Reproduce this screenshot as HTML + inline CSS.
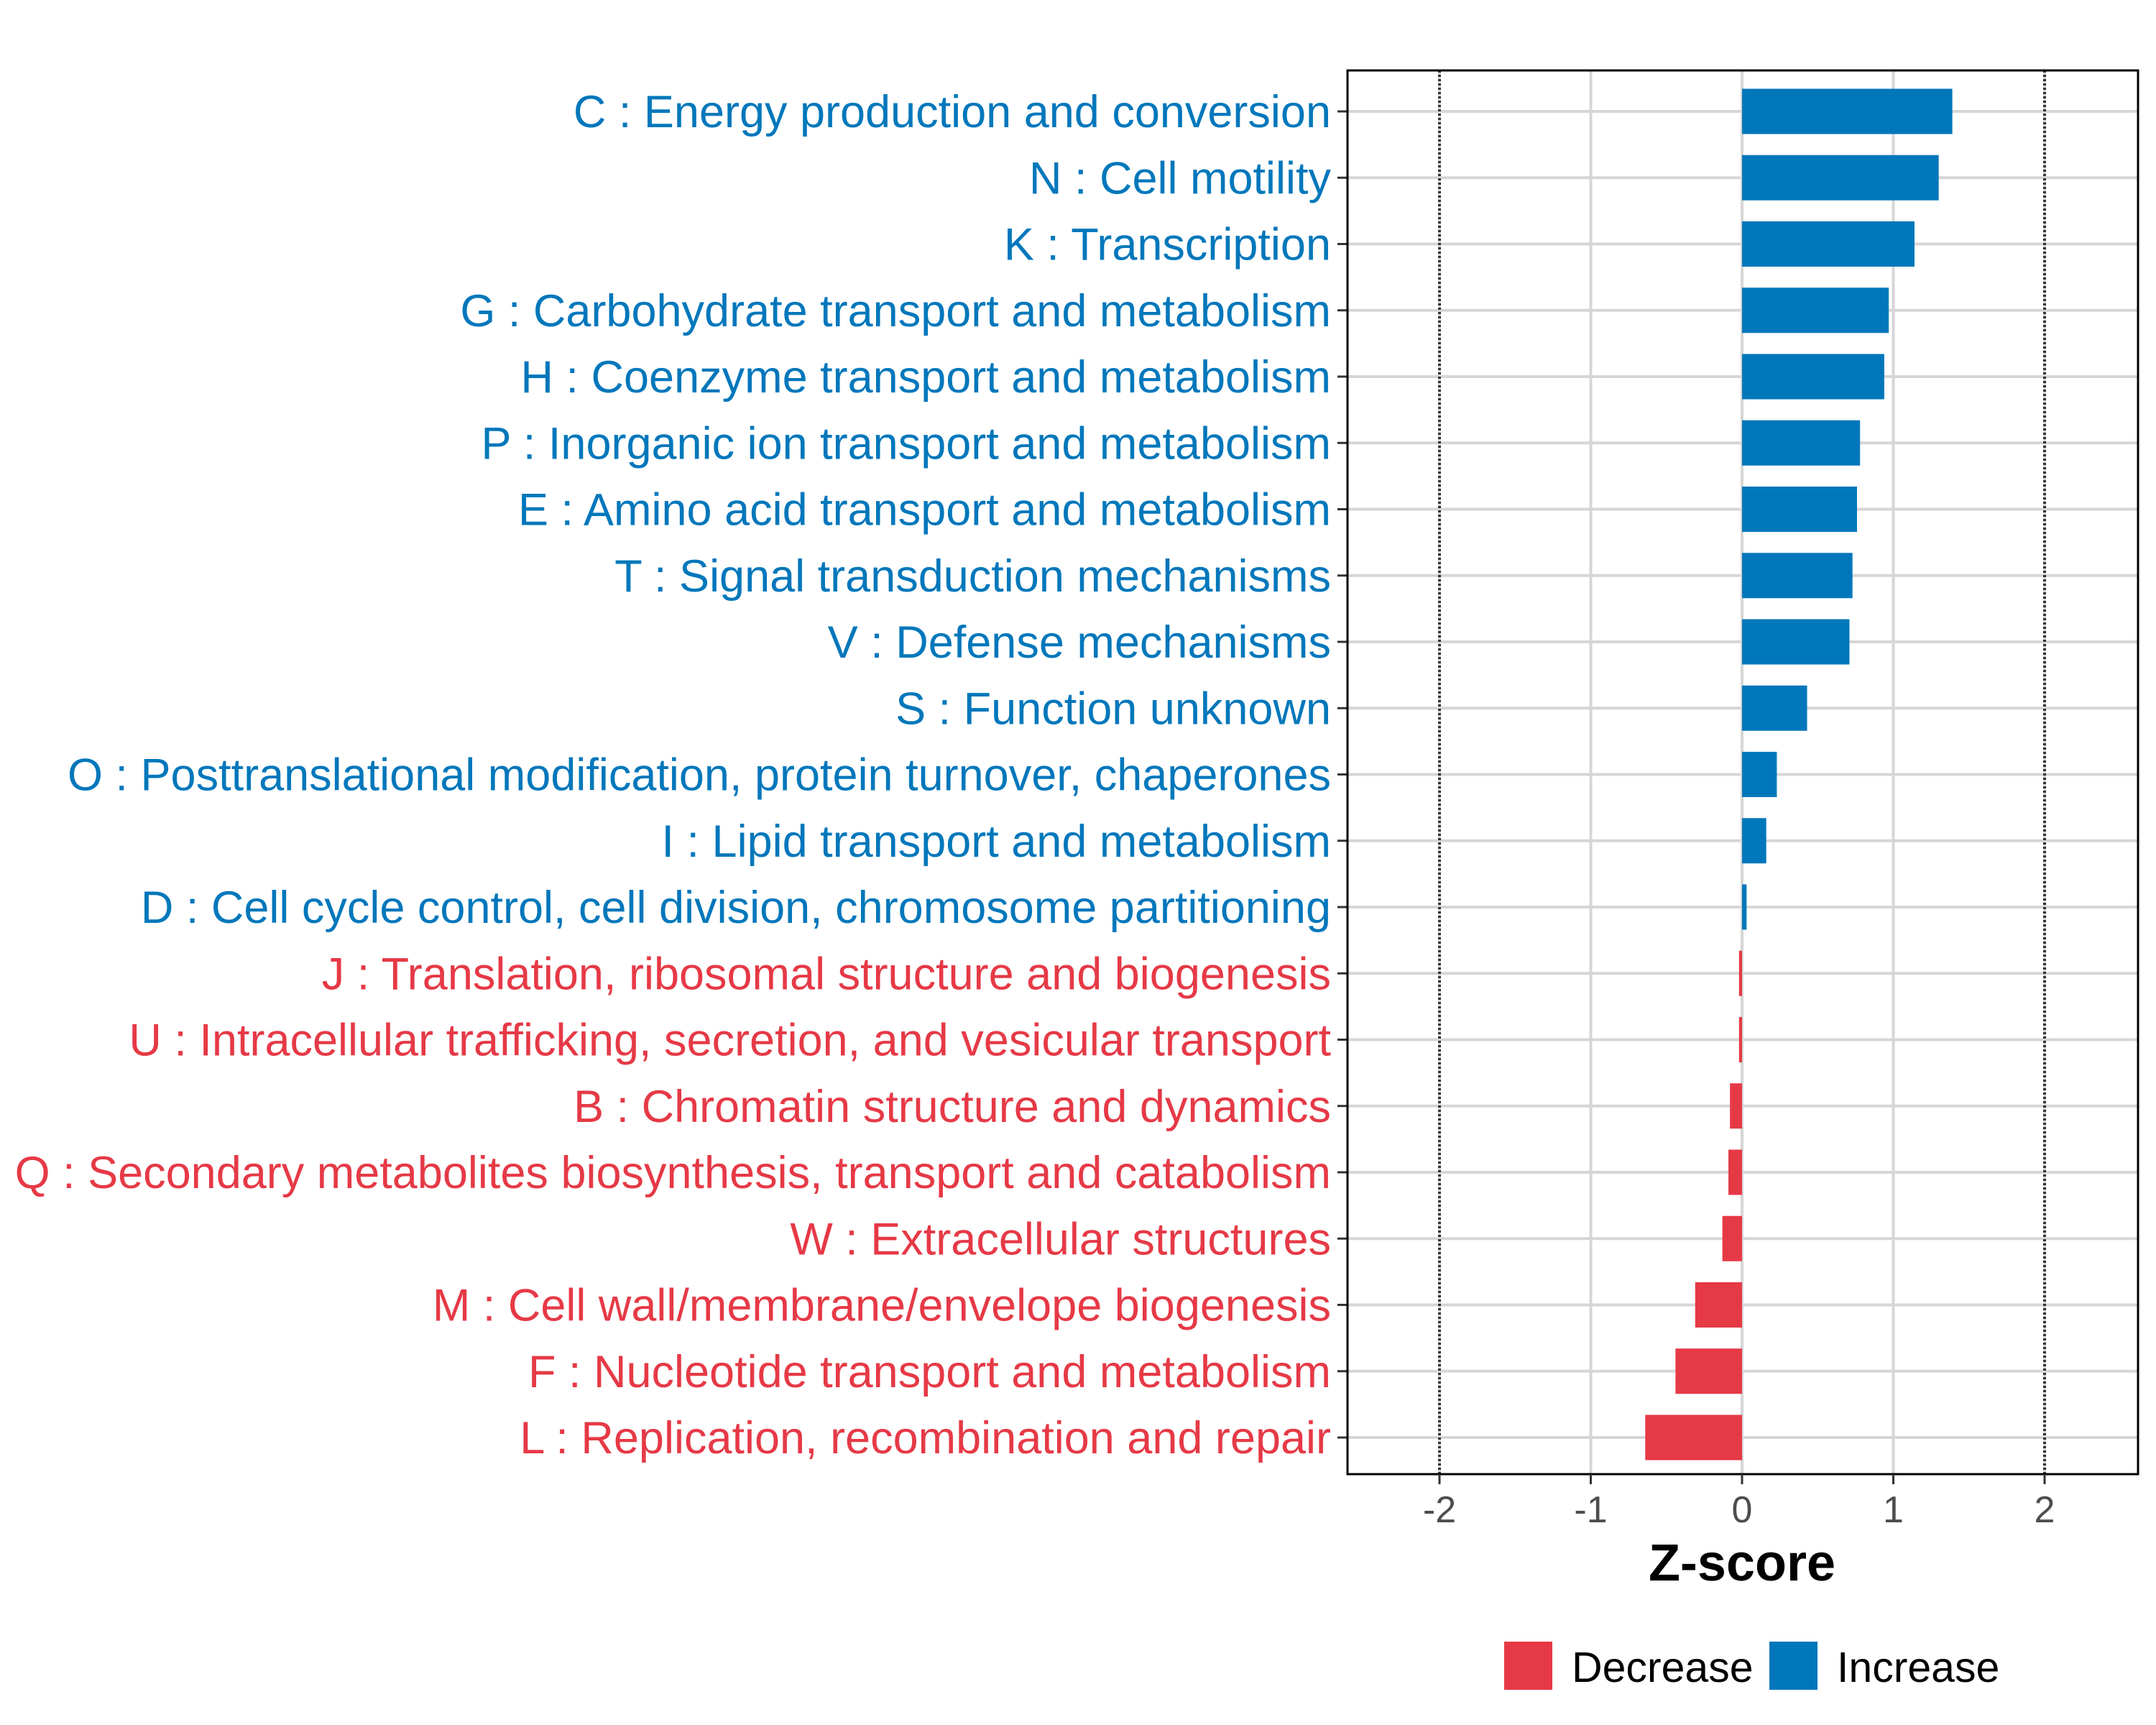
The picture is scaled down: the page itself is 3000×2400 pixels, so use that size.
<!DOCTYPE html>
<html><head><meta charset="utf-8"><style>
html,body{margin:0;padding:0;background:#fff;}
svg{display:block;font-family:"Liberation Sans",Arial,sans-serif;}
</style></head><body>
<svg id="chart" width="3000" height="2400" viewBox="0 0 3000 2400" xmlns="http://www.w3.org/2000/svg">
<rect x="0" y="0" width="3000" height="2400" fill="#fff"/>
<g id="grid"></g>
<g id="bars"></g>
<g id="ylabels"></g>
<g id="xaxis"></g>
<text x="2424" y="2199" text-anchor="middle" font-size="72" font-weight="bold" fill="#000">Z-score</text>
<g>
<rect x="2093" y="2284" width="67" height="67" fill="#E63946"/>
<text x="2187" y="2340" font-size="59" fill="#000">Decrease</text>
<rect x="2462" y="2284" width="67" height="67" fill="#0077BB"/>
<text x="2556" y="2340" font-size="59" fill="#000">Increase</text>
</g>
</svg>
<script>
const categories = ["C : Energy production and conversion","N : Cell motility","K : Transcription","G : Carbohydrate transport and metabolism","H : Coenzyme transport and metabolism","P : Inorganic ion transport and metabolism","E : Amino acid transport and metabolism","T : Signal transduction mechanisms","V : Defense mechanisms","S : Function unknown","O : Posttranslational modification, protein turnover, chaperones","I : Lipid transport and metabolism","D : Cell cycle control, cell division, chromosome partitioning","J : Translation, ribosomal structure and biogenesis","U : Intracellular trafficking, secretion, and vesicular transport","B : Chromatin structure and dynamics","Q : Secondary metabolites biosynthesis, transport and catabolism","W : Extracellular structures","M : Cell wall/membrane/envelope biogenesis","F : Nucleotide transport and metabolism","L : Replication, recombination and repair"];
const zscores = [1.39,1.30,1.14,0.97,0.94,0.78,0.76,0.73,0.71,0.43,0.23,0.16,0.03,-0.02,-0.02,-0.08,-0.09,-0.13,-0.31,-0.44,-0.64];
const xTicks = [-2,-1,0,1,2];
const xTickLabels = ["-2","-1","0","1","2"];

const NS="http://www.w3.org/2000/svg";
const L=1875,R=2975,T=98,B=2051;
const x0=2424, unit=210.5;
function xs(v){return x0+v*unit;}
const step=(2000-155)/(categories.length-1);
function ys(i){return 155+i*step;}
function mk(tag,attrs,parent){const e=document.createElementNS(NS,tag);for(const k in attrs)e.setAttribute(k,attrs[k]);parent.appendChild(e);return e;}
const grid=document.getElementById('grid'),bars=document.getElementById('bars'),yl=document.getElementById('ylabels'),xa=document.getElementById('xaxis');
xTicks.forEach(v=>{const g=mk('line',{x1:xs(v),x2:xs(v),y1:T,y2:B,stroke:'#d6d6d6','stroke-width':4},grid);

});
categories.forEach((c,i)=>{const g=mk('line',{x1:L,x2:R,y1:ys(i),y2:ys(i),stroke:'#d6d6d6','stroke-width':4},grid);

});
[-2,2].forEach(v=>{const d=mk('line',{x1:xs(v),x2:xs(v),y1:T,y2:B,stroke:'#333','stroke-width':4,'stroke-dasharray':'3,3'},grid);

});
const bh=63;
zscores.forEach((v,i)=>{const col=v>=0?'#0077BB':'#E63946';
const r=mk('rect',{x:Math.min(xs(0),xs(v)),y:ys(i)-bh/2,width:Math.max(Math.abs(xs(v)-xs(0)),2),height:bh,fill:col},bars);


const t=mk('text',{x:1852,y:ys(i)+22,'text-anchor':'end','font-size':63,fill:col},yl);t.textContent=categories[i];


const tk=mk('line',{x1:L-14,x2:L,y1:ys(i),y2:ys(i),stroke:'#333','stroke-width':3},yl);

});
const fr=mk('rect',{x:L,y:T,width:R-L,height:B-T,fill:'none',stroke:'#000','stroke-width':3},xa);


xTicks.forEach((v,i)=>{const tk=mk('line',{x1:xs(v),x2:xs(v),y1:B,y2:B+14,stroke:'#333','stroke-width':3},xa);


const t=mk('text',{x:xs(v),y:B+67,'text-anchor':'middle','font-size':52,fill:'#4d4d4d'},xa);t.textContent=xTickLabels[i];

});
</script>
</body></html>
